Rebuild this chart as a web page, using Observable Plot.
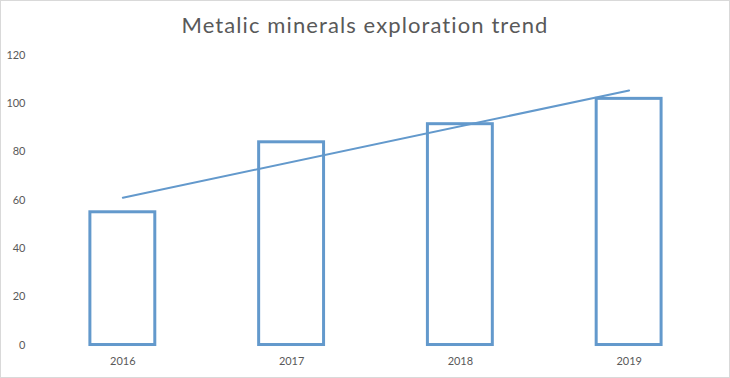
<!DOCTYPE html>
<html>
<head>
<meta charset="utf-8">
<script src="https://cdn.jsdelivr.net/npm/d3@7"></script>
<script src="https://cdn.jsdelivr.net/npm/@observablehq/plot@0.6"></script>
<style>
  html, body { margin: 0; padding: 0; background: #fff; }
  #chart { position: relative; width: 730px; height: 378px; box-sizing: border-box; border: 1px solid #d9d9d9; overflow: hidden; }
  #title { position: absolute; left: 0; top: 10px; width: 728px; text-align: center; font-family: Lato, "Open Sans", sans-serif; font-size: 22px; letter-spacing: 1.1px; color: #595959; }
  #plot { position: absolute; left: -1px; top: -1px; }
</style>
</head>
<body>
<div id="chart">
  <div id="title">Metalic minerals exploration trend</div>
  <div id="plot"></div>
</div>
<script>
const years = ["2016", "2017", "2018", "2019"];
const values = [55, 84, 91.5, 102];
const trendYears = ["2016", "2019"];
const trendValues = [61, 105.5];
const yTicks = [0, 20, 40, 60, 80, 100, 120];

const bars = years.map((y, i) => ({year: y, value: values[i]}));
const trend = trendYears.map((y, i) => ({year: y, value: trendValues[i]}));

const blue = "#6399cc";
const chart = Plot.plot({
  width: 730,
  height: 378,
  marginTop: 55,
  marginBottom: 33,
  marginLeft: 37,
  marginRight: 15,
  style: {fontFamily: "Lato, 'Open Sans', sans-serif", fontSize: "11px", color: "#595959", background: "transparent"},
  x: {domain: years, paddingInner: 0.616, paddingOuter: 0.308, label: null, tickSize: 0, tickPadding: 12},
  y: {domain: [0, 120], ticks: yTicks, label: null, tickSize: 0, tickPadding: 12},
  marks: [
    Plot.barY(bars, {x: "year", y: "value", fill: "none", stroke: blue, strokeWidth: 3}),
    Plot.lineY(trend, {x: "year", y: "value", stroke: blue, strokeWidth: 2})
  ]
});
document.getElementById("plot").appendChild(chart);
</script>
</body>
</html>
